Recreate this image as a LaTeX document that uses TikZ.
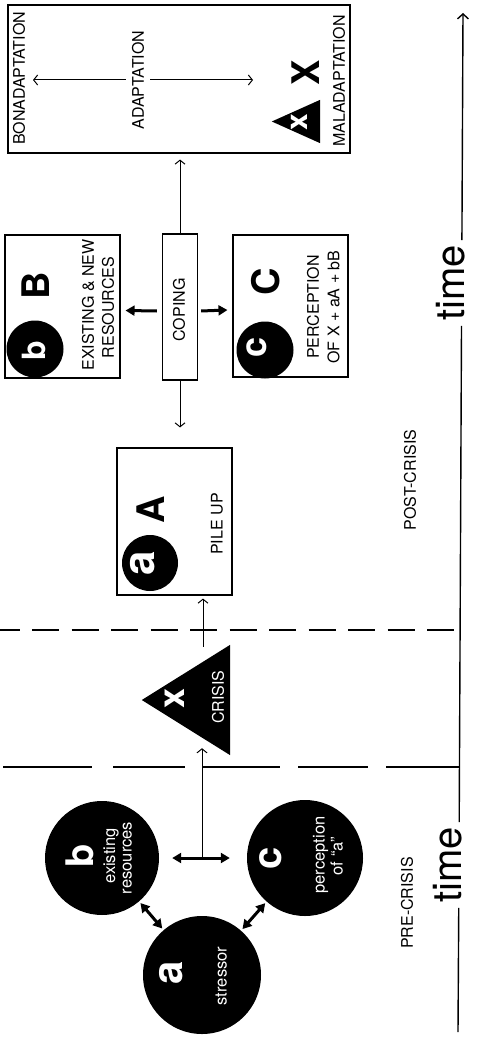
\documentclass[tikz,border=0pt]{standalone}
\usepackage{fontspec}
\setmainfont{TeX Gyre Heros}
\usetikzlibrary{arrows.meta,calc}
\begin{document}
\begin{tikzpicture}[x=1pt,y=-1pt,
  box/.style={draw,line width=1.1pt,inner sep=0pt},
  dot/.style={circle,fill=black,inner sep=0pt},
  lbl/.style={rotate=90,inner sep=0pt,font=\fontsize{16}{18}\selectfont},
  sm/.style={rotate=90,inner sep=0pt,anchor=mid,font=\fontsize{16.5}{18}\selectfont},
  letter/.style={rotate=90,inner sep=0pt,font=\fontsize{#1}{#1}\selectfont\bfseries},
  timelbl/.style={rotate=90,inner sep=5pt,text height=1ex,text depth=0pt,font=\fontsize{40}{40}\selectfont},
  thinarr/.style={line width=1pt,-{Straight Barb[length=4pt,width=10pt]}},
  thickarr/.style={line width=3pt,-{Triangle[length=9pt,width=10pt]}},
  thickdbl/.style={line width=3pt,{Triangle[length=9pt,width=10pt]}-{Triangle[length=9pt,width=10pt]}},
  dashA/.style={line width=1.2pt,dash pattern=on 27pt off 12.5pt,dash phase=7.5pt},
  dashB/.style={line width=1.2pt,dash pattern=on 89pt off 21pt on 72pt off 18pt on 77pt off 18pt on 70pt off 18pt on 90pt off 10pt},
  axis/.style={line width=1.4pt}
]
\useasboundingbox (0,0) rectangle (480,1040);

% ---------- adaptation box ----------
\node[box,minimum width=342pt,minimum height=148pt] (adapt) at (179,79) {};
\node[lbl] (bona) at (19,78.5) {BONADAPTATION};
\node[lbl,inner sep=6pt] (adtext) at (138,80) {ADAPTATION};
\node[lbl] (mala) at (339,81) {MALADAPTATION};
\coordinate (bonaTip) at (33,80);
\coordinate (malaTip) at (253,80);
\draw[thinarr] (adtext) -- (bonaTip);
\draw[thinarr] (adtext) -- (malaTip);
\node[inner sep=0pt,minimum width=48pt,minimum height=43pt] (maltri) at (296,121.5) {};
\fill (maltri.west) -- (maltri.north east) -- (maltri.south east) -- cycle;
\node[letter=30,text=white,anchor=mid] (malx) at (305,122) {x};
\node[letter=38] (malX) at (306,73) {X};

% ---------- coping and boxes B, C ----------
\node[box,minimum width=35pt,minimum height=146pt] (coping) at (180,307) {};
\node[lbl] (copingtext) at (179,310) {COPING};

\node[box,minimum width=115pt,minimum height=143pt] (boxB) at (62.5,306.5) {};
\node[dot,minimum size=57pt] (bdotB) at (35,349) {};
\node[letter=32,text=white] (bB1) at (33.5,351) {b};
\node[letter=38] (bB2) at (36,286) {B};
\node[lbl] (bBt1) at (88,305) {EXISTING \& NEW};
\node[lbl] (bBt2) at (108,307.5) {RESOURCES};

\node[box,minimum width=115pt,minimum height=142pt] (boxC) at (290.5,306) {};
\node[dot,minimum size=57pt] (cdotC) at (265,350) {};
\node[letter=36,text=white,anchor=mid] (cC1) at (263.5,347.5) {c};
\node[letter=38] (cC2) at (266,282) {C};
\node[lbl] (cCt1) at (313,307) {PERCEPTION};
\node[lbl] (cCt2) at (333.5,307) {OF X + aA + bB};

% ---------- pile up ----------
\node[box,minimum width=115pt,minimum height=147pt] (pileA) at (174.5,521.5) {};
\node[dot,minimum size=56pt] (adotA) at (150,563) {};
\node[letter=44,text=white,anchor=mid] (aA1) at (152,563) {a};
\node[letter=38] (aA2) at (151,510) {A};
\node[lbl] (aAt) at (217,524) {PILE UP};

\draw[thinarr,shorten >=6pt] (coping) -- (coping |- adapt.south);
\draw[thinarr,shorten >=20pt] (coping) -- (coping |- pileA.north);
\draw[thickarr] ([xshift=-5pt,yshift=-4pt]coping.west) -- ([xshift=5pt,yshift=-4pt]boxB.east);
\draw[thickarr] ([xshift=3pt,yshift=-4pt]coping.east) -- ([xshift=-5pt,yshift=-4pt]boxC.west);

% ---------- crisis ----------
\node[inner sep=0pt,minimum width=88pt,minimum height=110pt] (crisis) at (186,700) {};
\fill (crisis.west) -- (crisis.north east) -- (crisis.south east) -- cycle;
\node[letter=36,text=white,anchor=mid] (crx) at (182,698) {x};
\node[lbl,text=white] (crt) at (218,697) {CRISIS};
\draw[thinarr] ([xshift=17pt,yshift=-2pt]crisis.north) -- ([xshift=28.5pt,yshift=-3pt]pileA.south);

% ---------- dashed separators ----------
\coordinate (d1L) at (0,630);
\coordinate (d1R) at (460,630);
\draw[dashA] (d1L) -- (d1R);
\coordinate (d2L) at (3,767);
\coordinate (d2R) at (459,767);
\draw[dashB] (d2L) -- (d2R);

% ---------- pre-crisis circles ----------
\node[dot,minimum size=114pt] (bcirc) at (102,858) {};
\node[dot,minimum size=116pt] (ccirc) at (305,858) {};
\node[dot,minimum size=118pt] (acirc) at (202,975) {};
\node[letter=38,text=white] (bl) at (80,856) {b};
\node[sm,text=white] (bt1) at (112.5,856) {existing};
\node[sm,text=white] (bt2) at (129,858) {resources};
\node[letter=40,text=white,anchor=mid] (cl) at (279,858) {c};
\node[sm,text=white] (ct1) at (322,855) {perception};
\node[sm,text=white] (ct2) at (340,856) {of ``a''};
\node[letter=42,text=white,anchor=mid] (al) at (179.5,973) {a};
\node[sm,text=white] (at) at (224,976) {stressor};
\draw[thickdbl,shorten <=2pt,shorten >=2pt] (bcirc) -- (acirc);
\draw[thickdbl,shorten <=2pt,shorten >=2pt] (ccirc) -- (acirc);
\draw[thickdbl,shorten <=13pt,shorten >=17pt] (bcirc) -- (ccirc);
\coordinate (junc) at (202,858);
\draw[thinarr] (junc) -- ([xshift=16pt,yshift=7pt]crisis.south);

% ---------- period labels ----------
\node[lbl] (pre) at (407,903) {PRE-CRISIS};
\node[lbl] (post) at (410,480) {POST-CRISIS};

% ---------- time axis ----------
\coordinate (tb) at (458,1032);
\coordinate (tt) at (463,13);
\node[timelbl] (time1) at (459,865) {time};
\node[timelbl] (time2) at (461.7,283) {time};
\draw[axis] (tb) -- (time1);
\draw[axis] (time1) -- (time2);
\draw[axis,-{Straight Barb[length=5pt,width=11pt]}] (time2) -- (tt);
\end{tikzpicture}
\end{document}
